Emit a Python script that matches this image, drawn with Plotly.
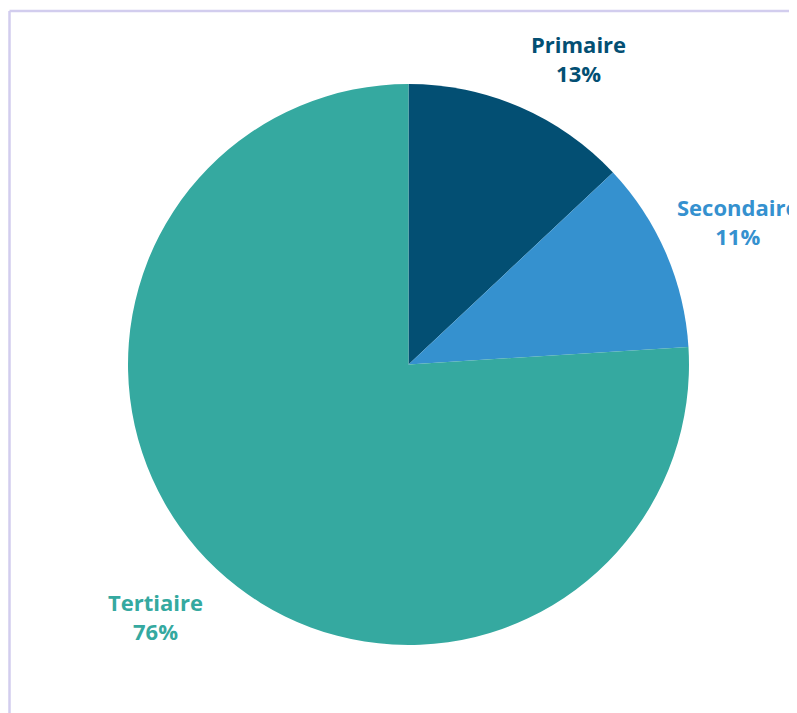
import plotly.graph_objects as go

categories = ["Primaire", "Secondaire", "Tertiaire"]
values = [13, 11, 76]
colors = ["#034F73", "#3591CF", "#35A9A0"]

W, H = 797, 713
OFF = 8  # default body margin of the html page
# label anchor positions in screen pixels (center x, center y)
label_pos = [(578, 59), (737, 222), (155, 616)]

fig = go.Figure()
fig.add_trace(go.Pie(
    labels=categories,
    values=values,
    sort=False,
    direction="clockwise",
    rotation=0,
    marker=dict(colors=colors, line=dict(width=0)),
    textinfo="none",
    hoverinfo="label+percent",
    showlegend=False,
    domain=dict(x=[(128 - OFF) / W, (689 - OFF) / W],
                y=[1 - (645 - OFF) / H, 1 - (84 - OFF) / H]),
))

annotations = []
for cat, v, c, (px, py) in zip(categories, values, colors, label_pos):
    annotations.append(dict(
        x=(px - OFF) / W, y=1 - (py - OFF) / H, xref="paper", yref="paper",
        text=f"<b>{cat}</b><br><b>{v}%</b>",
        showarrow=False, xanchor="center", yanchor="middle",
        font=dict(family="Open Sans", size=22, color=c),
        align="center",
    ))

bx, by = 9.5 - OFF, 11 - OFF
shapes = [
    dict(type="line", xref="paper", yref="paper",
         x0=bx / W, x1=1.05, y0=1 - by / H, y1=1 - by / H,
         line=dict(color="#D2CDEE", width=2.5)),
    dict(type="line", xref="paper", yref="paper",
         x0=bx / W, x1=bx / W, y0=1 - by / H, y1=-0.05,
         line=dict(color="#D2CDEE", width=2.5)),
]

fig.update_layout(
    width=W, height=H,
    margin=dict(l=0, r=0, t=0, b=0),
    paper_bgcolor="white",
    plot_bgcolor="white",
    annotations=annotations,
    shapes=shapes,
)

fig.write_html("out.html")
